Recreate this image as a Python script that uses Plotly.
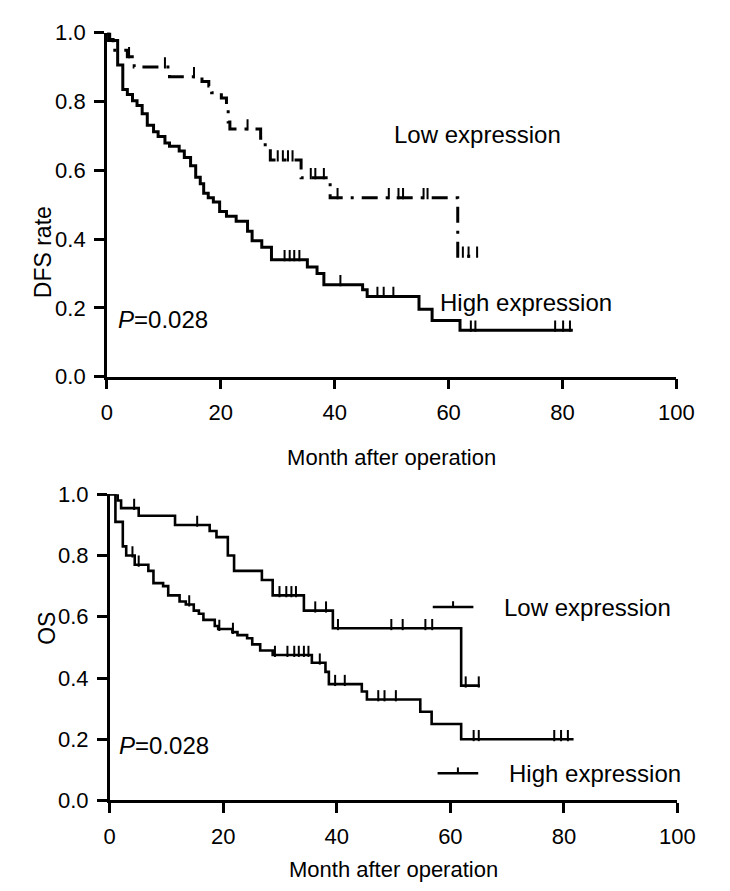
import numpy as np
import plotly.graph_objects as go

# ---------------- DATA ----------------
# Top panel (DFS) - high expression (solid line)
dfs_high_t = [0, 0.3, 1.9, 2.8, 3.6, 4.5, 5.3, 6.2, 7.1, 8.2, 9.0, 10.2, 11.0, 12.7, 13.6, 14.7, 15.6, 16.4, 17.0,
              17.8, 18.7, 19.8, 21.0, 22.7, 24.7, 25.5, 27.2, 28.9, 35.2, 36.9, 38.1, 44.9, 45.7, 54.8, 57.1, 62.0]
dfs_high_s = [1.0, 0.977, 0.906, 0.835, 0.820, 0.802, 0.788, 0.764, 0.731, 0.712, 0.698, 0.679, 0.670, 0.656,
              0.637, 0.613, 0.580, 0.561, 0.533, 0.520, 0.508, 0.480, 0.466, 0.452, 0.423, 0.395, 0.376, 0.340,
              0.319, 0.300, 0.267, 0.253, 0.233, 0.196, 0.163, 0.135]
dfs_high_censor = [31.2, 32.1, 32.9, 33.8, 41.0, 47.5, 48.6, 50.3, 63.9, 64.7, 78.7, 80.1, 81.3]
dfs_high_end = 81.8

# Top panel (DFS) - low expression (dash-dot line)
dfs_low_t = [0, 0.5, 1.1, 3.6, 4.8, 11.0, 16.7, 17.9, 18.4, 20.1, 21.0, 21.3, 21.6, 27.0, 27.8, 28.7, 34.1, 39.2,
             61.6]
dfs_low_s = [1.0, 0.98, 0.949, 0.93, 0.90, 0.872, 0.858, 0.845, 0.825, 0.81, 0.787, 0.74, 0.72, 0.693, 0.665,
             0.63, 0.578, 0.52, 0.35]
dfs_low_censor = [3.9, 10.2, 15.3, 24.7, 30.0, 30.9, 31.8, 32.6, 35.8, 36.6, 38.1, 40.5, 49.5, 51.2, 52.0, 55.6,
                  56.3, 62.5, 63.5, 65.0]
dfs_low_end = 65.2

# Bottom panel (OS) - low expression
os_low_t = [0, 1.4, 2.0, 5.1, 11.5, 17.6, 18.8, 20.8, 21.9, 26.8, 28.7, 34.2, 39.3, 61.9]
os_low_s = [1.0, 0.98, 0.955, 0.93, 0.90, 0.88, 0.86, 0.80, 0.75, 0.72, 0.67, 0.62, 0.5625, 0.375]
os_low_censor = [4.3, 15.4, 29.9, 31.1, 32.0, 32.8, 36.2, 38.1, 40.2, 49.6, 51.6, 55.6, 56.8, 62.7, 65.0]
os_low_end = 65.2

# Bottom panel (OS) - high expression
os_high_t = [0, 1.0, 2.3, 2.9, 4.4, 6.8, 7.7, 9.4, 10.3, 12.3, 13.4, 14.8, 15.7, 16.5, 18.5, 19.1, 21.6, 22.5,
             24.2, 25.1, 26.5, 28.7, 35.6, 38.0, 38.6, 44.4, 45.3, 54.7, 56.7, 61.9]
os_high_s = [1.0, 0.91, 0.83, 0.80, 0.77, 0.75, 0.71, 0.70, 0.67, 0.65, 0.64, 0.62, 0.61, 0.59, 0.57, 0.56, 0.55,
             0.54, 0.53, 0.51, 0.49, 0.475, 0.45, 0.42, 0.38, 0.356, 0.33, 0.29, 0.25, 0.20]
os_high_censor = [4.0, 5.1, 14.0, 19.3, 21.7, 29.1, 31.3, 32.5, 33.3, 34.2, 35.0, 37.0, 39.7, 41.4, 47.3, 48.4,
                  50.4, 64.1, 65.0, 78.3, 79.5, 80.7]
os_high_end = 81.7

x_ticks = [0, 20, 40, 60, 80, 100]
y_ticks = [0.0, 0.2, 0.4, 0.6, 0.8, 1.0]

group_labels = ["Low expression", "High expression"]
p_text = "<i>P</i>=0.028"


def step_xy(t, s, end):
    return list(t) + [end], list(s) + [s[-1]]


def surv_at(t, s, times):
    idx = np.searchsorted(np.array(t), np.array(times), side="right") - 1
    return list(np.array(s)[idx])


TICK_OFF = 0.012
FONT = "Liberation Sans, Arial, sans-serif"
W, H = 730, 891

fig = go.Figure()


def add_curve(t, s, end, censor, xa, ya, width, dash="solid"):
    xs, ys = step_xy(t, s, end)
    fig.add_trace(go.Scatter(x=xs, y=ys, mode="lines",
                             line=dict(color="black", width=width, dash=dash, shape="hv"),
                             xaxis=xa, yaxis=ya, showlegend=False, hoverinfo="skip"))
    cy = [v + TICK_OFF for v in surv_at(t, s, censor)]
    fig.add_trace(go.Scatter(x=censor, y=cy, mode="markers",
                             marker=dict(symbol="line-ns", size=8, line=dict(color="black", width=2)),
                             xaxis=xa, yaxis=ya, showlegend=False, hoverinfo="skip"))


add_curve(dfs_high_t, dfs_high_s, dfs_high_end, dfs_high_censor, "x", "y", 3)
add_curve(dfs_low_t, dfs_low_s, dfs_low_end, dfs_low_censor, "x", "y", 3, dash="16px,8px,3px,8px")
add_curve(os_low_t, os_low_s, os_low_end, os_low_censor, "x2", "y2", 2.6)
add_curve(os_high_t, os_high_s, os_high_end, os_high_censor, "x2", "y2", 2.6)

# plot-area pixel geometry
TOP_Y1, TOP_Y0 = 13, 367
BOT_Y1, BOT_Y0 = 488, 803
TOP_X0, TOP_X1 = 96, 685
BOT_X0, BOT_X1 = 99, 686

axis_common = dict(showgrid=False, zeroline=False, showline=True, linecolor="black", linewidth=2.5,
                   ticks="outside", ticklen=10, tickwidth=2.5, tickcolor="black", ticklabelstandoff=4,
                   tickfont=dict(family=FONT, size=22, color="black"))

shapes = []
annotations = []

# bottom-panel legend samples (line with a censor tick) and their texts
for label, ly, lx0 in [(group_labels[0], 604, 433), (group_labels[1], 775, 438)]:
    shapes.append(dict(type="line", xref="paper", yref="paper", x0=lx0 / W, x1=(lx0 + 42) / W,
                       y0=1 - ly / H, y1=1 - ly / H, line=dict(color="black", width=2.6)))
    shapes.append(dict(type="line", xref="paper", yref="paper", x0=(lx0 + 21) / W, x1=(lx0 + 21) / W,
                       y0=1 - ly / H, y1=1 - (ly - 6) / H, line=dict(color="black", width=2)))
    annotations.append(dict(text=label, x=(lx0 + 72) / W, y=1 - ly / H, xref="paper", yref="paper",
                            showarrow=False, xanchor="left", yanchor="middle", font=dict(size=24)))

annotations += [
    dict(text=group_labels[0], x=65, y=0.705, xref="x", yref="y", showarrow=False, font=dict(size=24)),
    dict(text=group_labels[1], x=73.5, y=0.215, xref="x", yref="y", showarrow=False, font=dict(size=24)),
    dict(text=p_text, x=1.6, y=0.165, xref="x", yref="y", showarrow=False, xanchor="left", font=dict(size=24)),
    dict(text=p_text, x=1.2, y=0.18, xref="x2", yref="y2", showarrow=False, xanchor="left", font=dict(size=24)),
    dict(text="DFS rate", x=14 / W, y=1 - 190 / H, xref="paper", yref="paper", showarrow=False, textangle=-90,
         font=dict(size=23)),
    dict(text="OS", x=19 / W, y=1 - 645 / H, xref="paper", yref="paper", showarrow=False, textangle=-90,
         font=dict(size=23)),
]

fig.update_layout(
    width=W, height=H,
    margin=dict(l=0, r=0, t=0, b=0),
    paper_bgcolor="white", plot_bgcolor="white",
    font=dict(family=FONT, color="black"),
    showlegend=False,
    xaxis=dict(domain=[TOP_X0 / W, TOP_X1 / W], range=[0, 100], tickvals=x_ticks, anchor="y",
               title=dict(text="Month after operation", font=dict(size=22), standoff=26), **axis_common),
    yaxis=dict(domain=[1 - TOP_Y0 / H, 1 - TOP_Y1 / H], range=[0, 1], tickvals=y_ticks, tickformat=".1f",
               anchor="x", **axis_common),
    xaxis2=dict(domain=[BOT_X0 / W, BOT_X1 / W], range=[0, 100], tickvals=x_ticks, anchor="y2",
                title=dict(text="Month after operation", font=dict(size=22), standoff=14), **axis_common),
    yaxis2=dict(domain=[1 - BOT_Y0 / H, 1 - BOT_Y1 / H], range=[0, 1], tickvals=y_ticks, tickformat=".1f",
                anchor="x2", **axis_common),
    shapes=shapes,
    annotations=annotations,
)

fig.write_html("out.html")
